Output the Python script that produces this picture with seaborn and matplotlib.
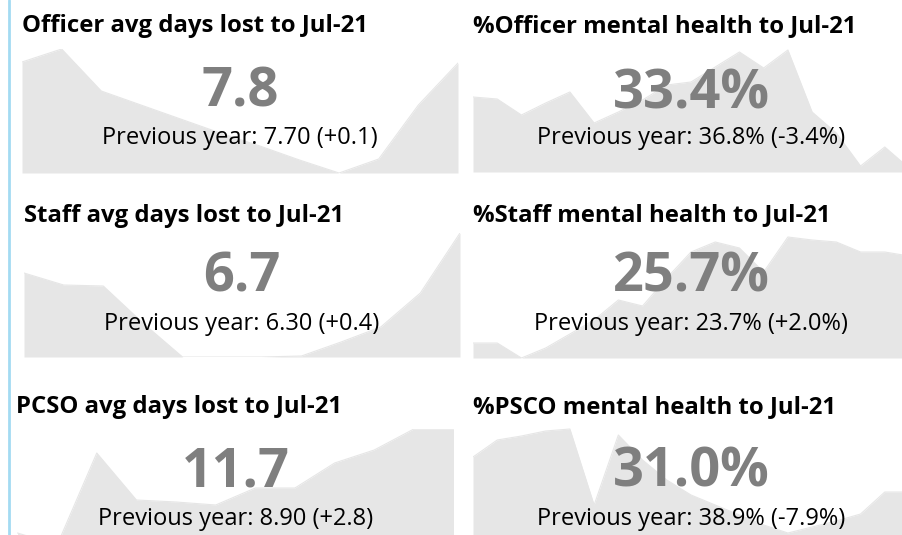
import numpy as np
import matplotlib
matplotlib.use("Agg")
import matplotlib.pyplot as plt
import seaborn as sns

# Month axes for the sparklines
months_12 = ['Aug-20', 'Sep-20', 'Oct-20', 'Nov-20', 'Dec-20', 'Jan-21',
             'Feb-21', 'Mar-21', 'Apr-21', 'May-21', 'Jun-21', 'Jul-21']
months_19 = ['Jan-20', 'Feb-20', 'Mar-20', 'Apr-20', 'May-20', 'Jun-20', 'Jul-20',
             'Aug-20', 'Sep-20', 'Oct-20', 'Nov-20', 'Dec-20', 'Jan-21', 'Feb-21',
             'Mar-21', 'Apr-21', 'May-21', 'Jun-21', 'Jul-21']

# Trend values (relative height within each card)
officer_days_trend = [111, 124, 82, 68, 54, 40, 27, 13, 0, 14, 68, 110]
officer_mh_trend = [75, 73, 57, 69, 80, 49, 60, 72, 87, 90, 105, 120, 104, 122, 60, 39, 6, 25, 4]
staff_days_trend = [84, 72, 71, 34, 0, 0, 0, 1, 15, 30, 64, 124]
staff_mh_trend = [15, 15, 0, 10, 24, 38, 58, 52, 80, 106, 116, 110, 86, 121, 118, 116, 106, 106, 102]
pcso_days_trend = [20, 8, 100, 53, 51, 48, 65, 65, 90, 103, 124, 124]
pcso_mh_trend = [94, 111, 115, 120, 122, 46, 116, 91, 71, 56, 46, 36, 26, 18, 24, 30, 37, 59, 59]

titles = ['Officer avg days lost to Jul-21', '%Officer mental health to Jul-21',
          'Staff avg days lost to Jul-21', '%Staff mental health to Jul-21',
          'PCSO avg days lost to Jul-21', '%PSCO mental health to Jul-21']
values = ['7.8', '33.4%', '6.7', '25.7%', '11.7', '31.0%']
previous = ['Previous year: 7.70 (+0.1)', 'Previous year: 36.8% (-3.4%)',
            'Previous year: 6.30 (+0.4)', 'Previous year: 23.7% (+2.0%)',
            'Previous year: 8.90 (+2.8)', 'Previous year: 38.9% (-7.9%)']

sns.set_theme(style="white")
plt.rcParams['font.family'] = ['Open Sans', 'DejaVu Sans']

W, H = 903, 535
fig = plt.figure(figsize=(W / 100, H / 100), dpi=100)
fig.patch.set_facecolor('white')


def fx(x):
    return x / W


def fy(y):
    return 1 - y / H


# card layout in pixels: area left, area top, title x, title baseline, value baseline, prev baseline
cards = [
    (officer_days_trend, months_12, 22, 49, 22, 32, 106.7, 144),
    (officer_mh_trend, months_19, 473, 48, 473, 32, 108.3, 144),
    (staff_days_trend, months_12, 24, 233, 24, 221.7, 291.7, 330),
    (staff_mh_trend, months_19, 473, 234, 473, 220.7, 291.7, 330),
    (pcso_days_trend, months_12, 17.5, 429, 16, 413.3, 486.7, 525),
    (pcso_mh_trend, months_19, 473, 427, 473, 413.3, 486.7, 525),
]

area_w, area_h = 436, 124
fill_color = '#e6e6e6'

for i, (trend, months, left, top, tx, ty, vy, py) in enumerate(cards):
    ax = fig.add_axes([fx(left), fy(top + area_h), area_w / W, area_h / H])
    x = np.arange(len(trend))
    sns.lineplot(x=x, y=trend, ax=ax, color=fill_color, linewidth=0.8)
    ax.fill_between(x, trend, 0, color=fill_color, linewidth=0)
    ax.set_xlim(0, len(trend) - 1)
    ax.set_ylim(0, area_h)
    ax.axis('off')
    ax.set_zorder(0)

    cx = left + area_w / 2
    fig.text(fx(tx), fy(ty), titles[i], fontsize=17.2, fontweight='bold',
             color='black', ha='left', va='baseline')
    fig.text(fx(cx), fy(vy), values[i], fontsize=39, fontweight='bold',
             color='#7f7f7f', ha='center', va='baseline')
    fig.text(fx(cx), fy(py), previous[i], fontsize=17,
             color='black', ha='center', va='baseline')

# light blue divider on the left edge
fig.add_artist(plt.Line2D([fx(8.5), fx(8.5)], [0, 1], color='#a3dbf2', linewidth=2))

fig.savefig('out.png', dpi=100, facecolor='white')
